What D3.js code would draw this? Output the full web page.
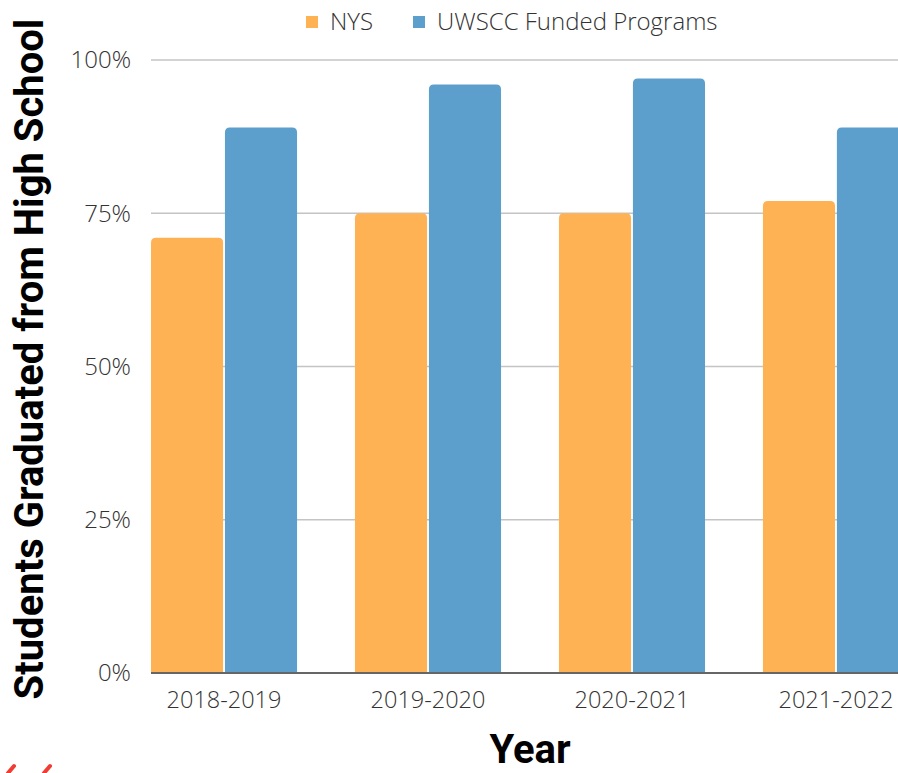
<!DOCTYPE html>
<html>
<head>
<meta charset="utf-8">
<script src="https://cdn.jsdelivr.net/npm/d3@7"></script>
<style>
  body { margin: 0; background: #fff; }
  svg { display: block; }
</style>
</head>
<body>
<script>
// chart data
const years = ['2018-2019', '2019-2020', '2020-2021', '2021-2022'];
const seriesNames = ['NYS', 'UWSCC Funded Programs'];
const nysValues = [71, 75, 75, 77];
const uwsccValues = [89, 96, 97, 89];
const yTicks = [0, 25, 50, 75, 100];

const colors = ['#ffb253', '#5c9ecc'];

const width = 898;
const height = 773;

const svg = d3.select('body')
  .append('svg')
  .attr('width', width)
  .attr('height', height)
  .style('font-family', '"Open Sans", sans-serif');

const rows = years.map((y, i) => ({ year: y, values: [nysValues[i], uwsccValues[i]] }));

// scales
const x0 = d3.scaleBand()
  .domain(years)
  .range([151, 909])
  .paddingInner(0.284)
  .paddingOuter(0);

const x1 = d3.scaleBand()
  .domain(d3.range(seriesNames.length))
  .range([0, x0.bandwidth()])
  .paddingInner(0.025);

const y = d3.scaleLinear()
  .domain([0, 100])
  .range([673, 60]);

// grid lines
svg.selectAll('.grid')
  .data(yTicks.filter(d => d > 0))
  .join('line')
  .attr('class', 'grid')
  .attr('x1', 151)
  .attr('x2', width)
  .attr('y1', d => y(d))
  .attr('y2', d => y(d))
  .attr('stroke', '#c4c4c4')
  .attr('stroke-width', 1.3);

// tick labels
svg.selectAll('.ytick')
  .data(yTicks)
  .join('text')
  .attr('class', 'ytick')
  .attr('x', 131)
  .attr('y', d => y(d))
  .attr('dy', '0.35em')
  .attr('text-anchor', 'end')
  .attr('fill', '#333')
  .style('font-size', '24px')
  .style('font-weight', 300)
  .text(d => d + '%');

// rounded-top bar path
function barPath(x, yTop, w, yBase, r) {
  r = Math.min(r, w / 2, yBase - yTop);
  return `M${x},${yBase}V${yTop + r}Q${x},${yTop} ${x + r},${yTop}H${x + w - r}Q${x + w},${yTop} ${x + w},${yTop + r}V${yBase}Z`;
}

const groups = svg.selectAll('.group')
  .data(rows)
  .join('g')
  .attr('class', 'group')
  .attr('transform', d => `translate(${x0(d.year)},0)`);

groups.selectAll('path')
  .data(d => d.values.map((v, i) => ({ v, i })))
  .join('path')
  .attr('d', d => barPath(x1(d.i), y(d.v), x1.bandwidth(), y(0), 5))
  .attr('fill', d => colors[d.i]);

// baseline
svg.append('line')
  .attr('x1', 151)
  .attr('x2', width)
  .attr('y1', y(0))
  .attr('y2', y(0))
  .attr('stroke', '#666')
  .attr('stroke-width', 2);

// x labels
svg.selectAll('.xtick')
  .data(years)
  .join('text')
  .attr('class', 'xtick')
  .attr('x', d => x0(d) + x0.bandwidth() / 2)
  .attr('y', 708)
  .attr('text-anchor', 'middle')
  .attr('fill', '#333')
  .style('font-size', '23.5px')
  .style('font-weight', 300)
  .text(d => d);

// axis titles
svg.append('text')
  .attr('transform', 'translate(43,359) rotate(-90)')
  .attr('text-anchor', 'middle')
  .style('font-family', 'Roboto, sans-serif')
  .style('font-weight', 'bold')
  .style('font-size', '40px')
  .attr('fill', '#000')
  .text('Students Graduated from High School');

svg.append('text')
  .attr('x', 530)
  .attr('y', 763)
  .attr('text-anchor', 'middle')
  .style('font-family', 'Roboto, sans-serif')
  .style('font-weight', 'bold')
  .style('font-size', '40px')
  .attr('fill', '#000')
  .text('Year');

// legend
const legend = svg.selectAll('.legend')
  .data(seriesNames)
  .join('g')
  .attr('class', 'legend')
  .attr('transform', (d, i) => `translate(${i === 0 ? 306 : 413},22)`);

legend.append('rect')
  .attr('x', 0)
  .attr('y', -6)
  .attr('width', 12)
  .attr('height', 12)
  .attr('fill', (d, i) => colors[i]);

legend.append('text')
  .attr('x', 24)
  .attr('dy', '0.35em')
  .attr('fill', '#333')
  .style('font-size', '24px')
  .style('font-weight', 300)
  .text(d => d);

// red marks left in the lower corner of the source image
svg.selectAll('.mark')
  .data([8, 44])
  .join('line')
  .attr('class', 'mark')
  .attr('x1', d => d)
  .attr('y1', 773)
  .attr('x2', d => d + 6)
  .attr('y2', 766)
  .attr('stroke', '#f03c32')
  .attr('stroke-width', 4)
  .attr('stroke-linecap', 'round');
</script>
</body>
</html>
